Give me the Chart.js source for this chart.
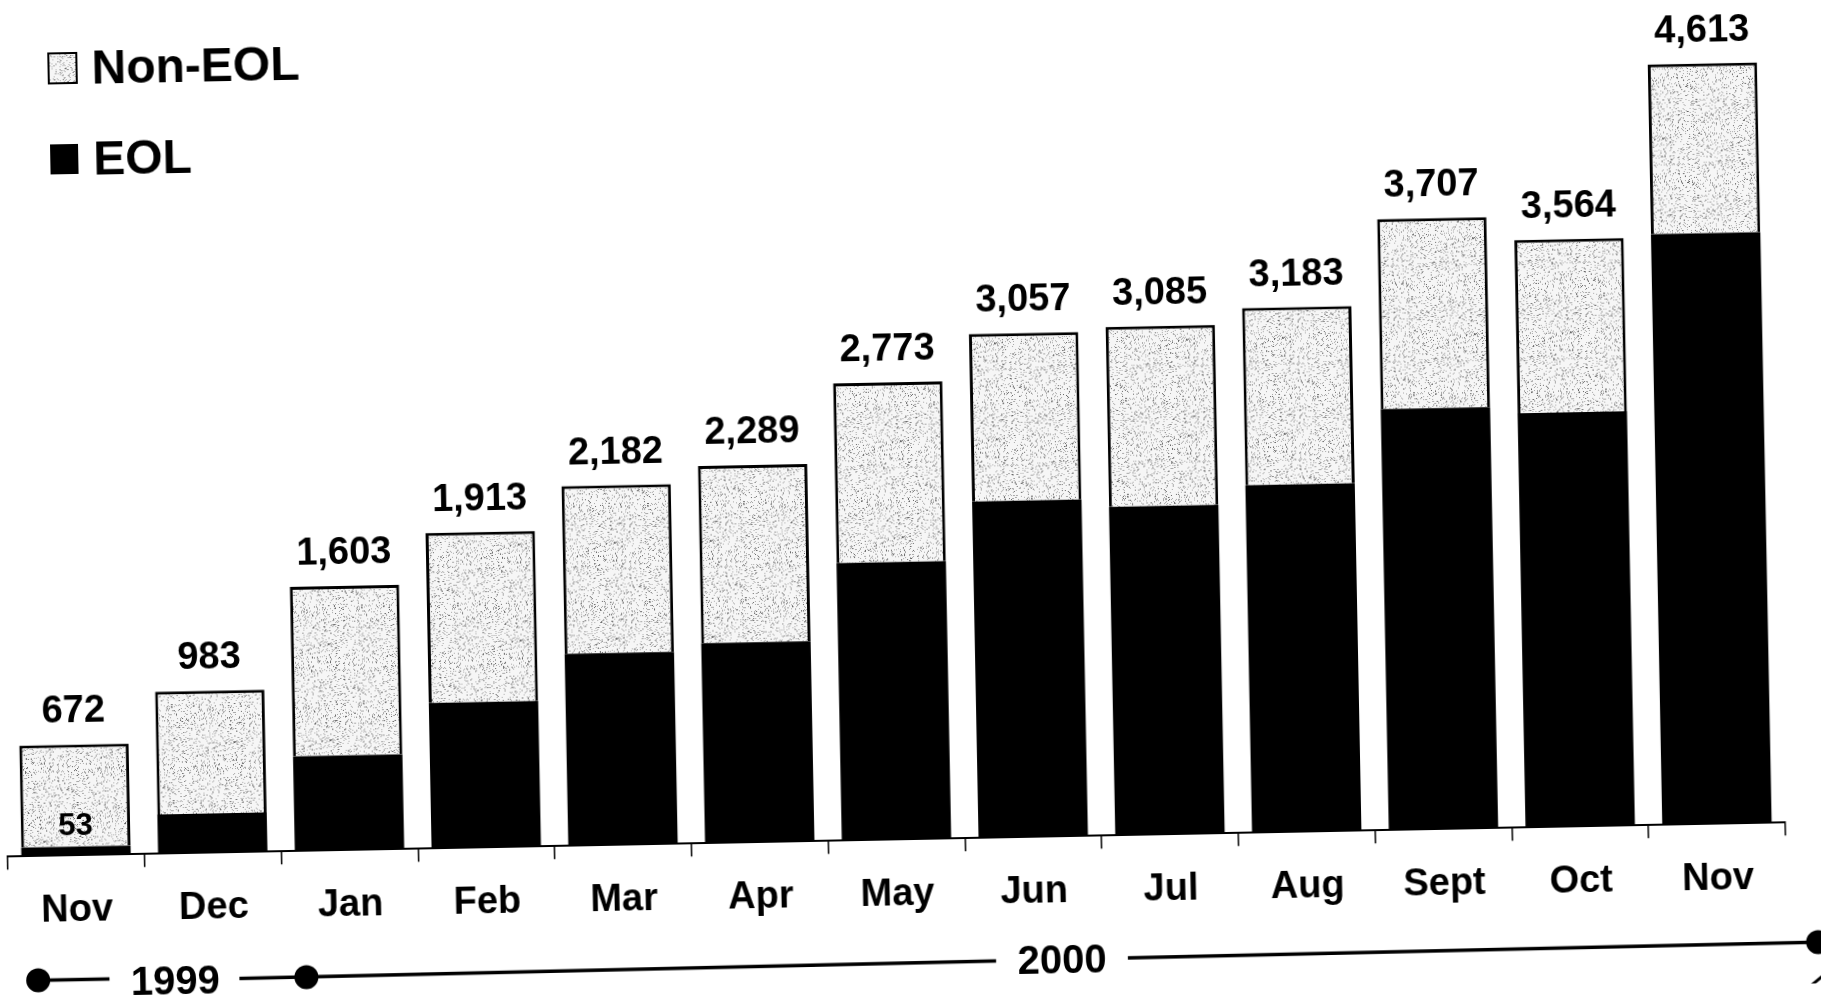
<!DOCTYPE html>
<html><head><meta charset="utf-8">
<script src="https://cdn.jsdelivr.net/npm/chart.js@4.4.0/dist/chart.umd.min.js"></script>
<style>
html,body{margin:0;padding:0;background:#fff;overflow:hidden;width:1821px;height:1001px}
#wrap{position:absolute;left:0;top:0;width:1821px;height:1001px;transform:rotate(-1.1deg);transform-origin:50% 50%}
canvas{display:block}
</style></head><body>
<div id="wrap"><canvas id="c" width="1821" height="1001"></canvas></div>
<script>
// ---- data ----
const months = ['Nov','Dec','Jan','Feb','Mar','Apr','May','Jun','Jul','Aug','Sept','Oct','Nov'];
const totals = [672, 983, 1603, 1913, 2182, 2289, 2773, 3057, 3085, 3183, 3707, 3564, 4613];
const eol    = [53, 238, 574, 882, 1164, 1213, 1683, 2041, 1992, 2108, 2553, 2513, 3584];
const nonEol = totals.map((t, i) => t - eol[i]);
const seriesNames = ['EOL', 'Non-EOL'];
const yearLabels = ['1999', '2000'];
const eolLabelIndexes = [0];

const FONT = "'Liberation Sans', Arial, sans-serif";

// light stipple texture (deterministic hash)
function makeStipple() {
  const c = document.createElement('canvas');
  c.width = 96; c.height = 96;
  const g = c.getContext('2d');
  g.fillStyle = '#f6f6f6';
  g.fillRect(0, 0, 96, 96);
  for (let y = 0; y < 96; y++) {
    for (let x = 0; x < 96; x++) {
      let h = (x * 374761393 + y * 668265263) | 0;
      h = (h ^ (h >>> 13)) * 1274126177 | 0;
      h = (h ^ (h >>> 16)) >>> 0;
      const v = h % 100;
      if (v < 3) { g.fillStyle = '#666'; g.fillRect(x, y, 1, 1); }
      else if (v < 15) { g.fillStyle = '#a8a8a8'; g.fillRect(x, y, 1, 1); }
    }
  }
  return g.createPattern(c, 'repeat');
}
const ctx0 = document.getElementById('c').getContext('2d');
const stipple = makeStipple();

const overlay = {
  id: 'overlay',
  afterDatasetsDraw(chart) {
    const ctx = chart.ctx;
    const xs = chart.scales.x;
    const topMeta = chart.getDatasetMeta(1);
    const botMeta = chart.getDatasetMeta(0);
    ctx.save();
    ctx.fillStyle = '#000';
    // totals above bars
    ctx.font = "bold 38px " + FONT;
    ctx.textAlign = 'center';
    ctx.textBaseline = 'alphabetic';
    topMeta.data.forEach((el, i) => {
      ctx.fillText(totals[i].toLocaleString('en-US'), el.x, el.y - 22);
    });
    // EOL values for thin segments
    ctx.font = "bold 31px " + FONT;
    eolLabelIndexes.forEach(i => {
      const el = botMeta.data[i];
      ctx.fillText(String(eol[i]), el.x, el.y - 11);
    });

    // legend
    const legendItems = [
      {label: seriesNames[1], fill: stipple, border: true, cx: 71, cy: 52},
      {label: seriesNames[0], fill: '#000', border: false, cx: 71, cy: 143}
    ];
    legendItems.forEach(it => {
      ctx.fillStyle = it.fill;
      ctx.fillRect(it.cx - 14, it.cy - 15, 28, 30);
      if (it.border) {
        ctx.strokeStyle = '#000'; ctx.lineWidth = 2;
        ctx.strokeRect(it.cx - 14, it.cy - 15, 28, 30);
      }
      ctx.fillStyle = '#000';
      ctx.font = "bold 48px " + FONT;
      ctx.textAlign = 'left';
      ctx.textBaseline = 'middle';
      ctx.fillText(it.label, 100, it.cy + 3);
    });

    // year timeline
    const px = v => xs.getPixelForValue(v);
    ctx.strokeStyle = '#000';
    ctx.lineWidth = 3.5;
    ctx.lineCap = 'butt';
    const seg = (a, ya, b, yb) => { ctx.beginPath(); ctx.moveTo(px(a), ya); ctx.lineTo(px(b), yb); ctx.stroke(); };
    seg(-0.294, 963.5, 0.227, 963.5);
    seg(1.177, 965.5, 6.711, 962.5);
    seg(7.675, 962.0, 12.723, 959.5);
    const dot = (a, y) => { ctx.beginPath(); ctx.arc(px(a), y, 12, 0, Math.PI * 2); ctx.fill(); };
    ctx.fillStyle = '#000';
    dot(-0.294, 963.5);
    dot(1.667, 965.5);
    dot(12.723, 959.5);
    ctx.font = "bold 40px " + FONT;
    ctx.textAlign = 'center';
    ctx.textBaseline = 'middle';
    ctx.fillText(yearLabels[0], px(0.709), 969);
    ctx.fillText(yearLabels[1], px(7.193), 965);
    // break mark at right edge
    ctx.lineWidth = 3;
    ctx.beginPath(); ctx.moveTo(px(12.58), 1012); ctx.lineTo(px(12.95), 972); ctx.stroke();
    ctx.restore();
  }
};

new Chart(ctx0, {
  type: 'bar',
  data: {
    labels: months,
    datasets: [
      { label: seriesNames[0], data: eol, backgroundColor: '#000', borderWidth: 0,
        categoryPercentage: 0.8, barPercentage: 1.0 },
      { label: seriesNames[1], data: nonEol, backgroundColor: stipple, borderColor: '#000',
        borderWidth: {top: 3, left: 3, right: 3, bottom: 0}, borderSkipped: 'bottom',
        categoryPercentage: 0.8, barPercentage: 1.0 }
    ]
  },
  options: {
    responsive: false,
    animation: false,
    events: [],
    layout: { padding: { top: 15, left: 1, right: 42, bottom: 64 } },
    plugins: { legend: { display: false }, tooltip: { enabled: false } },
    scales: {
      x: {
        stacked: true,
        border: { display: true, color: '#000', width: 2 },
        grid: { display: true, drawOnChartArea: false, drawTicks: true, tickLength: 13, color: '#000', lineWidth: 1.5 },
        ticks: { color: '#000', padding: 19.6, font: { family: FONT, size: 38, weight: 'bold' }, maxRotation: 0, autoSkip: false }
      },
      y: { stacked: true, display: false, min: 0, max: 5000 }
    }
  },
  plugins: [overlay]
});
</script>
</body></html>
